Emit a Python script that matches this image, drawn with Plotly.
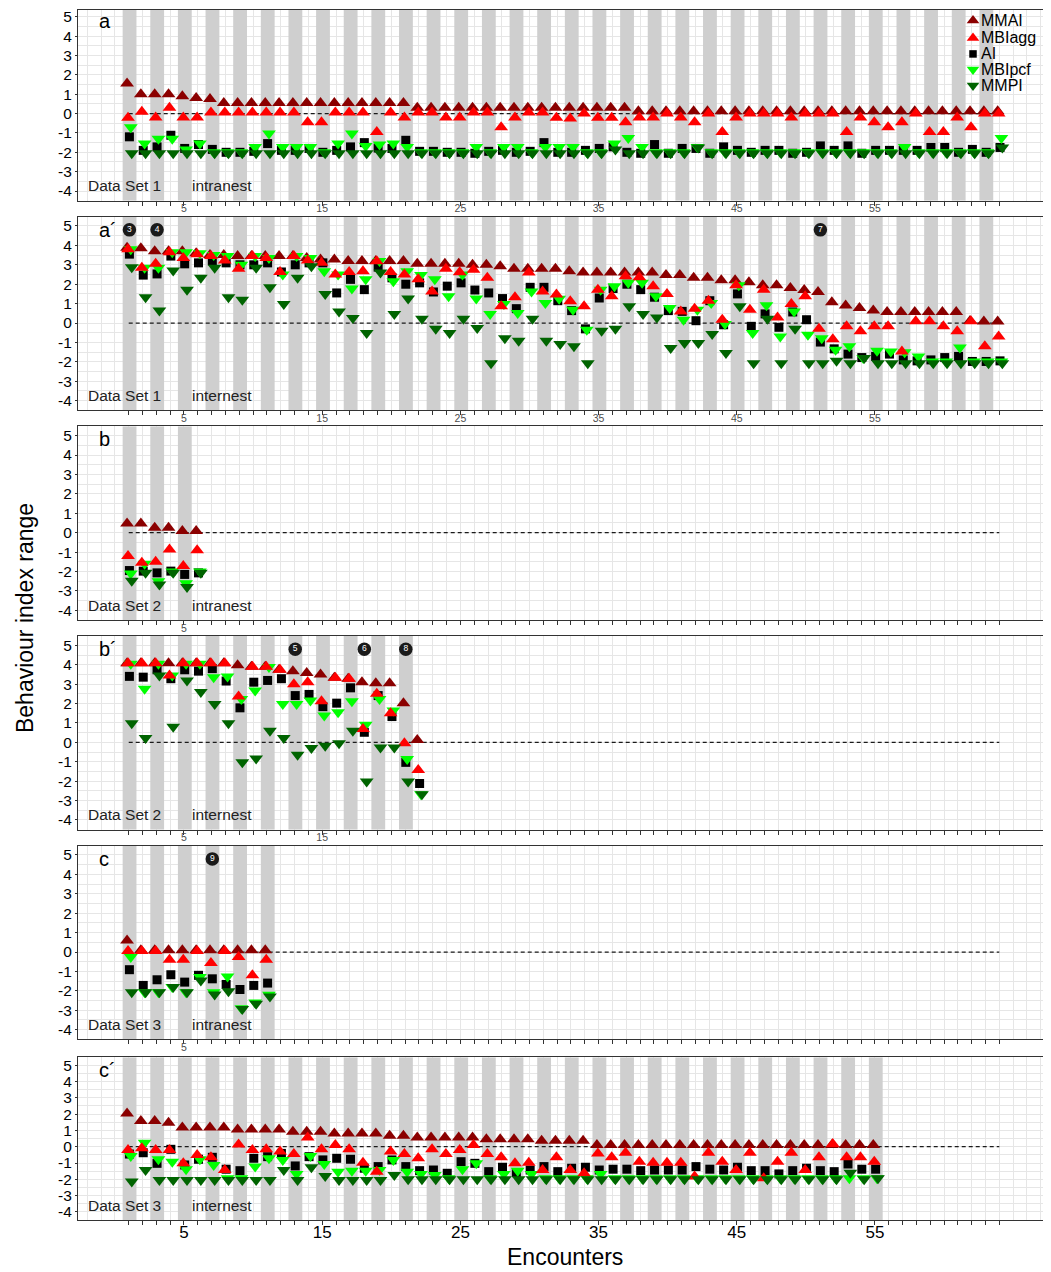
import plotly.graph_objects as go

# ---------------- data ----------------
series_names = ["MMAI", "MBIagg", "AI", "MBIpcf", "MMPI"]
encounter_tick_labels = [5, 15, 25, 35, 45, 55]
y_tick_values = [-4, -3, -2, -1, 0, 1, 2, 3, 4, 5]
y_tick_labels = ["-4", "-3", "-2", "-1", "0", "1", "2", "3", "4", "5"]

# Panel a : Data Set 1, intranest
a_MMAI = [1.55, 1.0, 1.0, 1.0, 0.9, 0.8, 0.75,
          0.55, 0.55, 0.55, 0.55, 0.55, 0.55, 0.55, 0.55, 0.55, 0.55, 0.55, 0.55, 0.55, 0.55,
          0.3, 0.3, 0.3, 0.3, 0.3, 0.3, 0.3, 0.3, 0.3, 0.3, 0.3, 0.3, 0.3, 0.3, 0.3, 0.3,
          0.12, 0.12, 0.12, 0.12, 0.12, 0.12, 0.12, 0.12, 0.12, 0.12, 0.12, 0.12, 0.12, 0.12,
          0.12, 0.12, 0.12, 0.12, 0.12, 0.12, 0.12, 0.12, 0.12, 0.12, 0.12, 0.12, 0.12]
a_MBIagg = [-0.22, 0.1, -0.2, 0.3, -0.2, -0.2, 0.05, 0.05, 0.05, 0.05,
            0.05, 0.05, 0.05, -0.45, -0.45, 0.05, 0.05, 0.05, -0.95, 0.05,
            -0.2, 0.05, 0.05, -0.2, -0.2, 0.05, 0.05, -0.7, -0.2, 0.05,
            0.05, -0.22, -0.25, 0.0, -0.22, -0.22, -0.45, -0.2, -0.2, 0.0,
            -0.2, -0.45, 0.0, -0.95, -0.2, 0.0, 0.0, 0.0, -0.2, 0.0,
            0.0, 0.0, -0.95, -0.2, -0.45, -0.7, -0.45, 0.0, -0.95, -0.95,
            -0.2, -0.7, 0.0, 0.0]
a_AI = [-1.2, -1.9, -1.72, -1.12, -1.8, -1.6, -1.85, -2.0, -2.0, -1.95,
        -1.55, -1.9, -1.9, -1.8, -2.0, -1.9, -1.72, -1.5, -1.78, -1.8,
        -1.38, -1.95, -1.95, -2.0, -2.0, -2.05, -1.95, -1.9, -2.0, -1.95,
        -1.5, -2.0, -2.0, -1.9, -1.8, -1.72, -2.0, -2.05, -1.6, -2.05,
        -1.8, -1.8, -2.05, -1.72, -1.9, -2.0, -1.9, -1.9, -2.05, -2.0,
        -1.67, -1.9, -1.67, -2.05, -1.9, -1.9, -1.9, -1.9, -1.75, -1.75,
        -2.0, -1.85, -2.0, -1.75]
a_MBIpcf = [-0.7, -1.55, -1.3, -1.3, -1.85, -1.55, -2.0, -2.0, -2.0, -1.72,
            -1.03, -1.72, -1.72, -1.72, -2.0, -1.55, -1.03, -1.67, -1.6, -1.55,
            -1.72, -2.0, -2.0, -2.0, -2.0, -1.72, -2.0, -1.72, -1.72, -2.0,
            -1.72, -1.72, -1.72, -2.0, -2.0, -1.55, -1.26, -1.72, -2.0, -2.0,
            -2.0, -1.72, -2.0, -2.0, -2.0, -2.0, -2.0, -2.0, -2.0, -2.0,
            -2.0, -2.0, -2.0, -2.0, -2.0, -2.0, -1.72, -2.0, -2.0, -2.0,
            -2.0, -2.0, -2.0, -1.26]
a_MMPI = [-2.05, -2.05, -2.05, -2.05, -2.05, -2.05, -2.05, -2.05, -2.05, -2.05,
          -2.05, -2.05, -2.05, -2.05, -2.05, -2.05, -2.05, -2.05, -2.05, -2.05,
          -2.05, -2.05, -2.05, -2.05, -2.05, -2.05, -2.05, -2.05, -2.05, -2.05,
          -2.05, -2.05, -2.05, -2.05, -2.05, -1.85, -2.05, -2.05, -2.05, -2.05,
          -2.05, -1.75, -2.05, -2.05, -2.05, -2.05, -2.05, -2.05, -2.05, -2.05,
          -2.05, -2.05, -2.05, -2.05, -2.05, -2.05, -2.05, -2.05, -2.05, -2.05,
          -2.05, -2.05, -2.05, -1.75]

# Panel a´ : Data Set 1, internest
ap_MMAI = [3.88, 3.85, 3.7, 3.7, 3.7, 3.6, 3.5, 3.5, 3.45, 3.45,
           3.45, 3.45, 3.45, 3.35, 3.27, 3.27, 3.2, 3.2, 3.2, 3.2,
           3.2, 3.05, 3.05, 3.05, 3.05, 3.0, 3.0, 2.93, 2.8, 2.8,
           2.8, 2.8, 2.67, 2.6, 2.6, 2.6, 2.6, 2.6, 2.6, 2.47,
           2.47, 2.33, 2.33, 2.2, 2.2, 2.1, 1.95, 1.95, 1.8, 1.7,
           1.6, 1.07, 0.9, 0.78, 0.65, 0.57, 0.57, 0.57, 0.57, 0.57,
           0.57, 0.1, 0.08, 0.08]
ap_MBIagg = [3.8, 2.85, 3.05, 3.65, 3.35, 3.55, 3.45, 3.22, 2.8, 3.45,
             3.35, 2.63, 3.45, 3.22, 3.1, 2.5, 2.63, 2.67, 3.18, 2.63,
             2.5, 2.25, 1.63, 2.8, 2.62, 2.75, 2.33, 0.86, 1.33, 2.6,
             1.63, 1.47, 1.12, 0.86, 1.72, 1.38, 2.41, 2.36, 1.9, 1.5,
             0.6, 0.74, 1.15, 0.17, 1.95, 0.69, 1.72, 0.29, 0.98, 1.38,
             -0.29, -0.83, -0.17, -0.43, -0.17, -0.17, -1.47, 0.09, 0.09, -0.17,
             -0.43, 0.09, -1.2, -0.69]
ap_AI = [3.55, 2.47, 2.53, 3.45, 3.05, 3.1, 3.2, 3.1, 3.0, 3.0,
         3.1, 2.63, 3.0, 3.1, 3.1, 1.55, 2.25, 1.72, 2.88, 2.33,
         2.0, 2.07, 1.6, 1.9, 2.07, 1.7, 1.55, 1.26, 0.74, 1.84,
         1.84, 1.15, 0.64, -0.3, 1.29, 1.78, 2.0, 1.72, 1.33, 0.64,
         0.6, 0.12, 1.15, -0.09, 1.5, -0.17, 0.47, -0.22, 0.57, 0.17,
         -0.98, -1.33, -1.6, -1.78, -1.72, -1.6, -1.9, -1.95, -1.9, -1.78,
         -1.72, -1.98, -1.98, -1.95]
ap_MBIpcf = [3.8, 2.85, 2.85, 3.65, 3.65, 3.6, 3.5, 3.45, 3.0, 3.45,
             3.35, 2.5, 3.45, 3.35, 2.67, 2.5, 1.78, 2.25, 3.2, 2.15,
             2.67, 2.47, 2.25, 1.38, 2.5, 1.26, 0.47, 0.98, 0.52, 1.63,
             1.03, 1.25, 0.69, -0.34, 1.72, 1.9, 2.07, 2.07, 1.38, 0.78,
             0.17, 0.69, 1.03, -0.05, 1.95, -0.52, 0.91, -0.69, 0.6, -0.6,
             -0.78, -1.38, -1.2, -1.8, -1.43, -1.47, -1.5, -1.72, -1.98, -1.98,
             -1.26, -1.98, -1.98, -1.98]
ap_MMPI = [2.88, 1.33, 0.64, 2.7, 1.72, 2.33, 2.85, 1.33, 1.2, 2.85,
           1.84, 0.98, 2.33, 2.93, 1.5, 0.6, 0.26, -0.52, 2.6, 0.47,
           1.26, 0.22, -0.29, -0.52, 0.22, -0.26, -2.07, -0.78, -0.91, 0.22,
           -0.91, -1.08, -1.2, -2.07, -0.4, -0.29, 0.86, 0.47, 0.29, -1.29,
           -1.03, -1.03, -0.57, -1.55, 0.86, -2.07, 0.22, -2.07, -0.29, -2.07,
           -2.07, -1.95, -2.07, -1.8, -2.07, -2.07, -2.07, -2.07, -2.07, -2.07,
           -2.07, -2.07, -2.07, -2.07]

# Panel b : Data Set 2, intranest
b_MMAI = [0.47, 0.47, 0.26, 0.26, 0.09, 0.09]
b_MBIagg = [-1.2, -1.55, -1.5, -0.86, -1.72, -0.91]
b_AI = [-1.95, -1.98, -2.07, -1.98, -2.15, -2.07]
b_MBIpcf = [-2.1, -1.6, -2.5, -2.0, -2.6, -2.0]
b_MMPI = [-2.47, -2.07, -2.67, -2.07, -2.8, -2.07]

# Panel b´ : Data Set 2, internest
bp_MMAI = [4.08, 4.08, 4.08, 4.08, 4.08, 4.08, 4.08, 4.08, 3.97, 3.9, 3.9,
           3.74, 3.67, 3.57, 3.5, 3.33, 3.28, 3.1, 3.05, 3.05, 2.02, 0.12]
bp_MBIagg = [4.08, 4.08, 4.08, 3.45, 4.08, 4.08, 4.08, 4.08, 2.36, 3.9, 3.9,
             3.74, 3.0, 3.1, 2.12, 3.33, 3.28, 0.69, 2.5, 1.5, -0.05, -1.43]
bp_AI = [3.4, 3.36, 3.74, 3.28, 3.74, 3.67, 3.8, 3.16, 1.78, 3.1, 3.19,
         3.28, 2.41, 2.47, 1.84, 2.02, 2.81, 0.52, 2.41, 1.33, -1.03, -2.12]
bp_MBIpcf = [4.05, 2.76, 4.05, 3.45, 4.05, 4.05, 3.36, 3.4, 2.24, 2.67, 3.88,
             1.98, 1.98, 2.16, 1.38, 1.55, 2.12, 0.91, 2.24, 1.64, -0.86, -2.67]
bp_MMPI = [0.98, 0.22, 3.45, 0.81, 3.19, 2.59, 1.98, 0.98, -1.03, -0.83, 0.6,
           0.22, -0.64, -0.29, -0.17, -0.05, 0.6, -2.02, -0.26, -0.26, -2.02, -2.67]

# Panel c : Data Set 3, intranest
c_MMAI = [0.6, 0.09, 0.09, 0.09, 0.09, 0.09, 0.09, 0.09, 0.09, 0.09, 0.09]
c_MBIagg = [0.05, 0.05, 0.05, -0.4, -0.4, 0.05, -0.57, 0.05, -0.26, -1.2, -0.4]
c_AI = [-0.91, -1.72, -1.43, -1.17, -1.55, -1.2, -1.38, -1.67, -1.93, -1.72, -1.6]
c_MBIpcf = [-0.26, -2.07, -2.07, -1.8, -2.07, -1.29, -2.07, -1.26, -2.9, -2.6, -2.2]
c_MMPI = [-2.07, -2.07, -2.07, -1.8, -2.07, -1.47, -2.19, -2.02, -2.93, -2.67, -2.29]

# Panel c´ : Data Set 3, internest
cp_MMAI = [2.04, 1.57, 1.57, 1.47, 1.18, 1.18, 1.18, 1.18, 1.06, 1.06,
           1.06, 1.06, 0.92, 0.92, 0.92, 0.81, 0.81, 0.81, 0.81, 0.67,
           0.67, 0.57, 0.57, 0.57, 0.57, 0.57, 0.45, 0.45, 0.45, 0.45,
           0.37, 0.37, 0.37, 0.37, 0.1, 0.1, 0.1, 0.1, 0.1, 0.1,
           0.1, 0.1, 0.1, 0.1, 0.1, 0.1, 0.1, 0.1, 0.1, 0.1,
           0.1, 0.1, 0.1, 0.1, 0.1]
cp_MBIagg = [-0.2, -0.1, -0.2, -0.2, -1.02, -0.51, -0.65, -1.43, 0.14, -0.2,
             -0.16, -0.3, -0.45, 0.57, -0.16, 0.1, -0.16, -0.98, -1.53, -0.3,
             -0.45, -0.71, -0.16, -0.45, -0.2, 0.1, -0.45, -0.65, -1.02, -0.98,
             -1.43, -0.65, -1.43, -1.63, -0.41, -0.65, -0.37, -0.92, -0.98, -0.98,
             -0.98, -1.83, -0.37, -0.92, -1.43, -0.37, -1.93, -0.92, -0.37, -1.43,
             -0.65, 0.16, -0.65, -0.65, -0.92]
cp_AI = [-0.45, -0.37, -1.02, -0.16, -1.12, -0.77, -0.65, -1.38, -1.47, -0.71,
         -0.61, -0.41, -1.18, -0.61, -0.81, -0.71, -0.77, -1.32, -1.22, -0.81,
         -1.22, -1.47, -1.43, -1.63, -0.92, -1.02, -1.53, -1.26, -1.59, -1.43,
         -1.22, -1.53, -1.32, -1.26, -1.43, -1.38, -1.38, -1.47, -1.43, -1.43,
         -1.43, -1.22, -1.38, -1.43, -1.26, -1.47, -1.47, -1.67, -1.47, -1.32,
         -1.47, -1.53, -1.06, -1.38, -1.38]
cp_MBIpcf = [-0.57, 0.24, -0.77, -0.92, -1.38, -0.77, -1.12, -1.93, -1.93, -1.22,
             -0.71, -0.81, -1.67, -0.57, -1.06, -1.53, -1.47, -1.47, -1.43, -0.81,
             -1.53, -1.67, -1.73, -1.93, -1.38, -1.02, -1.93, -1.67, -1.47, -1.67,
             -1.93, -1.93, -1.93, -1.93, -1.67, -1.93, -1.93, -1.93, -1.93, -1.93,
             -1.93, -1.93, -1.93, -1.93, -1.93, -1.93, -1.93, -1.93, -1.93, -1.93,
             -1.93, -1.93, -1.93, -1.93, -1.93]
cp_MMPI = [-2.14, -1.43, -2.04, -2.04, -2.04, -2.04, -2.04, -2.04, -2.04, -2.04,
           -2.04, -1.43, -2.04, -1.26, -1.79, -2.04, -2.04, -2.04, -2.04, -1.73,
           -2.0, -2.0, -2.0, -2.0, -2.0, -2.0, -2.0, -2.0, -2.0, -2.0,
           -2.0, -2.0, -2.0, -2.0, -2.0, -2.0, -2.0, -2.0, -2.0, -2.0,
           -2.0, -2.0, -2.0, -2.0, -2.0, -2.0, -2.0, -2.0, -2.0, -2.0,
           -2.0, -2.0, -1.59, -2.0, -1.93]

# numbered event markers: (panel index, encounter, label)
event_panel = [1, 1, 1, 3, 3, 3, 4]
event_encounter = [1, 3, 51, 13, 18, 21, 7]
event_label = ["3", "4", "7", "5", "6", "8", "9"]

# ---------------- styling ----------------
PAGE_W, PAGE_H = 1051, 1272
OFF = 8                      # default body margin of the html page
W, H = PAGE_W - OFF, PAGE_H - OFF
FONT = "Liberation Sans, Arial, Helvetica, sans-serif"

panels = [
    dict(letter="a", ds="Data Set 1", kind="intranest",
         values=[a_MMAI, a_MBIagg, a_AI, a_MBIpcf, a_MMPI], top=8, bottom=199),
    dict(letter="a\u00b4", ds="Data Set 1", kind="internest",
         values=[ap_MMAI, ap_MBIagg, ap_AI, ap_MBIpcf, ap_MMPI], top=215, bottom=409),
    dict(letter="b", ds="Data Set 2", kind="intranest",
         values=[b_MMAI, b_MBIagg, b_AI, b_MBIpcf, b_MMPI], top=425, bottom=619),
    dict(letter="b\u00b4", ds="Data Set 2", kind="internest",
         values=[bp_MMAI, bp_MBIagg, bp_AI, bp_MBIpcf, bp_MMPI], top=635, bottom=829),
    dict(letter="c", ds="Data Set 3", kind="intranest",
         values=[c_MMAI, c_MBIagg, c_AI, c_MBIpcf, c_MMPI], top=845, bottom=1039),
    dict(letter="c\u00b4", ds="Data Set 3", kind="internest",
         values=[cp_MMAI, cp_MBIagg, cp_AI, cp_MBIpcf, cp_MMPI], top=1057, bottom=1220),
]

styles = {
    "MMAI": dict(symbol="triangle-up", color="#8B0000", size=12, dx=-0.12),
    "MBIagg": dict(symbol="triangle-up", color="#FF0000", size=12, dx=-0.05),
    "AI": dict(symbol="square", color="#000000", size=9, dx=0.05),
    "MBIpcf": dict(symbol="triangle-down", color="#00FF00", size=12, dx=0.15),
    "MMPI": dict(symbol="triangle-down", color="#006400", size=12, dx=0.22),
}
draw_order = ["MMAI", "AI", "MBIpcf", "MBIagg", "MMPI"]

X_LEFT, X_RIGHT = 78, 1047
X_RANGE = [-2.67, 67.45]
GRID = "#e6e6e6"
BAND = "#cfcfcf"
n_all = len(a_MMAI)


def py(p):
    return min(1.0, max(0.0, 1 - (p - OFF) / H))


def px(p):
    return min(1.0, max(0.0, (p - OFF) / W))


fig = go.Figure()
layout = dict(
    width=W, height=H, margin=dict(l=0, r=0, t=0, b=0),
    paper_bgcolor="white", plot_bgcolor="rgba(0,0,0,0)",
    showlegend=False, barmode="overlay",
    font=dict(family=FONT, color="black"),
)
annotations = []

for i, p in enumerate(panels):
    suf = "" if i == 0 else str(i + 1)
    xr, yr = "x" + suf, "y" + suf
    nmax = len(p["values"][0])
    last = i == len(panels) - 1
    y_range = [-4.5, 5.35] if i == 0 else [-4.5, 5.48]

    tickvals = list(range(1, n_all + 1))
    ticktext = [str(v) if (v in encounter_tick_labels and v <= nmax) else "" for v in tickvals]
    layout["xaxis" + suf] = dict(
        domain=[px(X_LEFT), px(X_RIGHT)], range=X_RANGE, anchor=yr,
        tickmode="array", tickvals=tickvals, ticktext=ticktext,
        ticks="outside", ticklen=4, tickcolor="#333333", tickwidth=1,
        ticklabelstandoff=-7 if last else -6,
        tickfont=dict(size=17 if last else 10.5, color="black" if last else "#4d4d4d"),
        showgrid=True, gridcolor=GRID, gridwidth=1,
        minor=dict(tickmode="linear", tick0=0, dtick=1, showgrid=True,
                   gridcolor=GRID, gridwidth=1, ticks=""),
        showline=True, linecolor="#333333", linewidth=1, mirror=True,
        zeroline=False, fixedrange=True,
    )
    layout["yaxis" + suf] = dict(
        domain=[py(p["bottom"]), py(p["top"])], range=y_range, anchor=xr,
        tickmode="array", tickvals=y_tick_values, ticktext=y_tick_labels,
        ticks="outside", ticklen=2, tickcolor="#333333",
        ticklabeloverflow="allow",
        tickfont=dict(size=15.5, color="black"),
        showgrid=True, gridcolor=GRID, gridwidth=1,
        minor=dict(tickmode="linear", tick0=0, dtick=0.5, showgrid=True,
                   gridcolor=GRID, gridwidth=1, ticks=""),
        showline=True, linecolor="#333333", linewidth=1, mirror=True,
        zeroline=False, fixedrange=True,
    )

    # grey bands on odd encounters (bars spanning the panel height)
    odd = list(range(1, nmax + 1, 2))
    span = y_range[1] - y_range[0]
    fig.add_trace(go.Bar(
        x=[n + 0.06 for n in odd], y=[span for _ in odd], base=y_range[0], width=1.0,
        marker=dict(color=BAND, line=dict(width=0)), xaxis=xr, yaxis=yr,
        hoverinfo="skip", showlegend=False))

    # dashed zero reference
    fig.add_trace(go.Scatter(
        x=[1, n_all], y=[0, 0], mode="lines",
        line=dict(color="#1a1a1a", width=1.3, dash="4px,3px"),
        xaxis=xr, yaxis=yr, hoverinfo="skip", showlegend=False))

    data = dict(zip(series_names, p["values"]))
    for name in draw_order:
        st = styles[name]
        vals = data[name]
        xs = [k + 1 + st["dx"] for k in range(len(vals))]
        fig.add_trace(go.Scatter(
            x=xs, y=vals, mode="markers", name=name, xaxis=xr, yaxis=yr,
            marker=dict(symbol=st["symbol"], size=st["size"], color=st["color"],
                        line=dict(width=0)),
            hoverinfo="skip", cliponaxis=False))

    # panel letter and captions
    letter_top = 6 if i == 0 else p["top"]
    annotations.append(dict(text=p["letter"], xref="paper", yref="paper",
                            x=px(97), y=py(letter_top + 13), xanchor="left", yanchor="middle",
                            showarrow=False, font=dict(size=20, color="black")))
    annotations.append(dict(text=p["ds"], xref="paper", yref="paper",
                            x=px(86), y=py(p["bottom"] - 15), xanchor="left", yanchor="middle",
                            showarrow=False, font=dict(size=15.5, color="#222222")))
    annotations.append(dict(text=p["kind"], xref="paper", yref="paper",
                            x=px(190), y=py(p["bottom"] - 15), xanchor="left", yanchor="middle",
                            showarrow=False, font=dict(size=15.5, color="#222222")))

# numbered event circles
for pi, enc, lab in zip(event_panel, event_encounter, event_label):
    suf = "" if pi == 0 else str(pi + 1)
    fig.add_trace(go.Scatter(
        x=[enc + 0.05], y=[4.8], mode="markers+text", text=[lab],
        textposition="middle center",
        textfont=dict(size=8.5, color="white", family=FONT),
        marker=dict(symbol="circle", size=13.5, color="#1a1a1a", line=dict(width=0)),
        xaxis="x" + suf, yaxis="y" + suf, hoverinfo="skip", cliponaxis=False))

# overlay axis in page-pixel coordinates for the legend key
layout["xaxis7"] = dict(domain=[0, 1], range=[OFF, PAGE_W], anchor="y7", visible=False, fixedrange=True)
layout["yaxis7"] = dict(domain=[0, 1], range=[PAGE_H, OFF], anchor="x7", visible=False, fixedrange=True)
legend_rows = [18.5, 36, 52, 67.5, 83.5]
legend_sizes = {"MMAI": 11, "MBIagg": 11, "AI": 7.5, "MBIpcf": 11, "MMPI": 11}
for name, yrow in zip(series_names, legend_rows):
    st = styles[name]
    fig.add_trace(go.Scatter(
        x=[973], y=[yrow], mode="markers",
        marker=dict(symbol=st["symbol"], size=legend_sizes[name], color=st["color"], line=dict(width=0)),
        xaxis="x7", yaxis="y7", hoverinfo="skip", cliponaxis=False, showlegend=False))
    annotations.append(dict(text=name, xref="paper", yref="paper",
                            x=px(979), y=py(yrow), xanchor="left", yanchor="middle",
                            showarrow=False, font=dict(size=16, color="black")))

# axis titles
annotations.append(dict(text="Behaviour index range", xref="paper", yref="paper",
                        x=px(25), y=py(617), textangle=-90, xanchor="center", yanchor="middle",
                        showarrow=False, font=dict(size=23, color="black")))
annotations.append(dict(text="Encounters", xref="paper", yref="paper",
                        x=px(565), y=0, xanchor="center", yanchor="bottom",
                        showarrow=False, font=dict(size=23, color="black")))

layout["annotations"] = annotations
fig.update_layout(**layout)
fig.write_html("out.html")
